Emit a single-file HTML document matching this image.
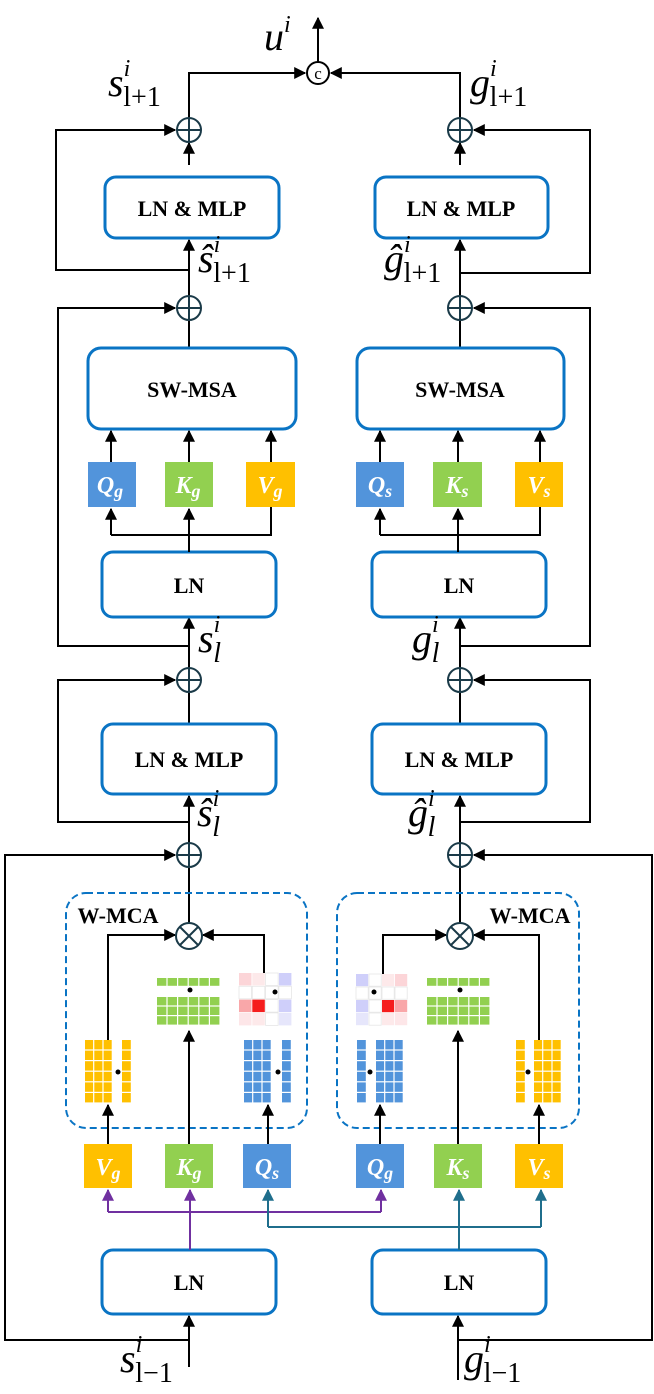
<!DOCTYPE html>
<html><head><meta charset="utf-8"><style>
html,body{margin:0;padding:0;background:#fff}
svg{display:block}
.b{fill:#fff;stroke:#0a74c4;stroke-width:3}
.t{font-family:"Liberation Serif",serif;font-weight:bold;font-size:22px;text-anchor:middle}
.l{fill:none;stroke:#000;stroke-width:2}
.m{font-family:"Liberation Serif",serif;font-style:italic;fill:#000}
.q{font-family:"Liberation Serif",serif;font-style:italic;font-weight:bold;fill:#fff;text-anchor:middle}
</style></head><body>
<svg id="s" width="654" height="1394" viewBox="0 0 654 1394" xmlns="http://www.w3.org/2000/svg">
<defs>
<marker id="a" viewBox="0 0 10 10" refX="9" refY="5" markerWidth="6" markerHeight="6" orient="auto"><path d="M0,0L10,5L0,10z" fill="#000"/></marker>
<marker id="ap" viewBox="0 0 10 10" refX="9" refY="5" markerWidth="6" markerHeight="6" orient="auto"><path d="M0,0L10,5L0,10z" fill="#7030a0"/></marker>
<marker id="at" viewBox="0 0 10 10" refX="9" refY="5" markerWidth="6" markerHeight="6" orient="auto"><path d="M0,0L10,5L0,10z" fill="#1f6e8c"/></marker>
</defs>

<path class="l" d="M318,62V18" marker-end="url(#a)"/>
<circle cx="318" cy="73" r="11" fill="#fff" stroke="#000" stroke-width="2"/>
<text x="318" y="79" font-family="Liberation Serif,serif" font-size="17" text-anchor="middle">c</text>
<path class="l" d="M189,118V73H305" marker-end="url(#a)"/>
<path class="l" d="M460,118V73H331" marker-end="url(#a)"/>

<path class="l" d="M189,165V143" marker-end="url(#a)"/>
<path class="l" d="M460,165V143" marker-end="url(#a)"/>
<path class="l" d="M189,296V240" marker-end="url(#a)"/>
<path class="l" d="M460,296V240" marker-end="url(#a)"/>
<path class="l" d="M189,348V321"/>
<path class="l" d="M460,348V321"/>
<path class="l" d="M189,668V618" marker-end="url(#a)"/>
<path class="l" d="M460,668V618" marker-end="url(#a)"/>
<path class="l" d="M189,724V693"/>
<path class="l" d="M460,724V693"/>
<path class="l" d="M189,843V796" marker-end="url(#a)"/>
<path class="l" d="M460,843V796" marker-end="url(#a)"/>
<path class="l" d="M189,924V868"/>
<path class="l" d="M460,924V868"/>
<path class="l" d="M189,1367V1316" marker-end="url(#a)"/>
<path class="l" d="M458,1380V1316" marker-end="url(#a)"/>

<path class="l" d="M189,270H56V130H175" marker-end="url(#a)"/>
<path class="l" d="M460,273H590V130H474" marker-end="url(#a)"/>
<path class="l" d="M189,646H58V308H175" marker-end="url(#a)"/>
<path class="l" d="M460,646H590V308H474" marker-end="url(#a)"/>
<path class="l" d="M189,822H58V680H175" marker-end="url(#a)"/>
<path class="l" d="M460,822H590V680H474" marker-end="url(#a)"/>
<path class="l" d="M189,1340H5V855H175" marker-end="url(#a)"/>
<path class="l" d="M458,1340H652V855H474" marker-end="url(#a)"/>

<g fill="#fff" stroke="#1a3a48" stroke-width="2">
<circle cx="189" cy="130" r="12"/><path d="M177,130H201M189,118V142"/>
<circle cx="460" cy="130" r="12"/><path d="M448,130H472M460,118V142"/>
<circle cx="189" cy="308" r="12"/><path d="M177,308H201M189,296V320"/>
<circle cx="460" cy="308" r="12"/><path d="M448,308H472M460,296V320"/>
<circle cx="189" cy="680" r="12"/><path d="M177,680H201M189,668V692"/>
<circle cx="460" cy="680" r="12"/><path d="M448,680H472M460,668V692"/>
<circle cx="189" cy="855" r="12"/><path d="M177,855H201M189,843V867"/>
<circle cx="460" cy="855" r="12"/><path d="M448,855H472M460,843V867"/>
</g>

<rect class="b" x="105" y="177" width="174" height="61" rx="11"/><text class="t" x="192" y="216">LN &amp; MLP</text>
<rect class="b" x="375" y="177" width="173" height="61" rx="11"/><text class="t" x="461" y="216">LN &amp; MLP</text>
<rect class="b" x="88" y="348" width="208" height="81" rx="13"/><text class="t" x="192" y="397">SW-MSA</text>
<rect class="b" x="357" y="348" width="207" height="81" rx="13"/><text class="t" x="460" y="397">SW-MSA</text>
<rect class="b" x="102" y="552" width="174" height="65" rx="11"/><text class="t" x="189" y="593">LN</text>
<rect class="b" x="372" y="552" width="174" height="65" rx="11"/><text class="t" x="459" y="593">LN</text>
<rect class="b" x="102" y="724" width="174" height="70" rx="11"/><text class="t" x="189" y="767">LN &amp; MLP</text>
<rect class="b" x="372" y="724" width="174" height="70" rx="11"/><text class="t" x="459" y="767">LN &amp; MLP</text>
<rect class="b" x="102" y="1250" width="174" height="64" rx="11"/><text class="t" x="189" y="1290">LN</text>
<rect class="b" x="372" y="1250" width="174" height="64" rx="11"/><text class="t" x="459" y="1290">LN</text>

<path class="l" d="M111,535H271V507"/>
<path class="l" d="M111,535V509" marker-end="url(#a)"/>
<path class="l" d="M189,552V509" marker-end="url(#a)"/>
<path class="l" d="M380,535H540V507"/>
<path class="l" d="M380,535V509" marker-end="url(#a)"/>
<path class="l" d="M458,552V509" marker-end="url(#a)"/>
<path class="l" d="M111,462V431" marker-end="url(#a)"/>
<path class="l" d="M189,462V431" marker-end="url(#a)"/>
<path class="l" d="M271,462V431" marker-end="url(#a)"/>
<path class="l" d="M380,462V431" marker-end="url(#a)"/>
<path class="l" d="M458,462V431" marker-end="url(#a)"/>
<path class="l" d="M540,462V431" marker-end="url(#a)"/>
<rect x="88" y="462" width="48" height="45" fill="#5294db"/><text class="q" x="110" y="493" font-size="24">Q<tspan font-size="18" dy="4">g</tspan></text>
<rect x="165" y="462" width="48" height="45" fill="#92d050"/><text class="q" x="188" y="493" font-size="24">K<tspan font-size="18" dy="4">g</tspan></text>
<rect x="246" y="462" width="49" height="45" fill="#ffc000"/><text class="q" x="270" y="493" font-size="24">V<tspan font-size="18" dy="4">g</tspan></text>
<rect x="356" y="462" width="48" height="45" fill="#5294db"/><text class="q" x="380" y="493" font-size="24">Q<tspan font-size="18" dy="4">s</tspan></text>
<rect x="433" y="462" width="49" height="45" fill="#92d050"/><text class="q" x="457" y="493" font-size="24">K<tspan font-size="18" dy="4">s</tspan></text>
<rect x="515" y="462" width="48" height="45" fill="#ffc000"/><text class="q" x="539" y="493" font-size="24">V<tspan font-size="18" dy="4">s</tspan></text>

<rect x="66" y="893" width="241" height="235" rx="20" fill="none" stroke="#0a74c4" stroke-width="2" stroke-dasharray="7,4"/>
<rect x="337" y="893" width="242" height="235" rx="20" fill="none" stroke="#0a74c4" stroke-width="2" stroke-dasharray="7,4"/>
<text class="t" x="118" y="923">W-MCA</text>
<text class="t" x="530" y="923">W-MCA</text>
<g id="cells"></g>
<path class="l" d="M108,1040V935H175" marker-end="url(#a)"/>
<path class="l" d="M264,973V935H203" marker-end="url(#a)"/>
<path class="l" d="M383,974V935H446" marker-end="url(#a)"/>
<path class="l" d="M539,1040V935H474" marker-end="url(#a)"/>
<g fill="#fff" stroke="#1a3a48" stroke-width="2">
<circle cx="189" cy="936" r="13"/><path d="M180,927L198,945M198,927L180,945"/>
<circle cx="460" cy="936" r="13"/><path d="M451,927L469,945M469,927L451,945"/>
</g>
<path class="l" d="M108,1144V1105" marker-end="url(#a)"/>
<path class="l" d="M189,1144V1031" marker-end="url(#a)"/>
<path class="l" d="M268,1144V1105" marker-end="url(#a)"/>
<path class="l" d="M380,1144V1105" marker-end="url(#a)"/>
<path class="l" d="M458,1144V1031" marker-end="url(#a)"/>
<path class="l" d="M539,1144V1105" marker-end="url(#a)"/>

<rect x="84" y="1144" width="48" height="44" fill="#ffc000"/><text class="q" x="108" y="1175" font-size="24">V<tspan font-size="18" dy="4">g</tspan></text>
<rect x="165" y="1144" width="48" height="44" fill="#92d050"/><text class="q" x="189" y="1175" font-size="24">K<tspan font-size="18" dy="4">g</tspan></text>
<rect x="243" y="1144" width="48" height="44" fill="#5294db"/><text class="q" x="267" y="1175" font-size="24">Q<tspan font-size="18" dy="4">s</tspan></text>
<rect x="356" y="1144" width="48" height="44" fill="#5294db"/><text class="q" x="380" y="1175" font-size="24">Q<tspan font-size="18" dy="4">g</tspan></text>
<rect x="434" y="1144" width="48" height="44" fill="#92d050"/><text class="q" x="458" y="1175" font-size="24">K<tspan font-size="18" dy="4">s</tspan></text>
<rect x="515" y="1144" width="48" height="44" fill="#ffc000"/><text class="q" x="539" y="1175" font-size="24">V<tspan font-size="18" dy="4">s</tspan></text>

<g fill="none" stroke="#7030a0" stroke-width="2">
<path d="M190,1250V1190" marker-end="url(#ap)"/>
<path d="M108,1212V1190" marker-end="url(#ap)"/>
<path d="M381,1212V1190" marker-end="url(#ap)"/>
<path d="M108,1212H381"/>
</g>
<g fill="none" stroke="#1f6e8c" stroke-width="2">
<path d="M459,1250V1190" marker-end="url(#at)"/>
<path d="M268,1227V1190" marker-end="url(#at)"/>
<path d="M541,1227V1190" marker-end="url(#at)"/>
<path d="M268,1227H541"/>
</g>

<text class="m" x="264" y="50" font-size="40">u<tspan font-size="24" dy="-18">i</tspan></text>
<text class="m" x="108" y="96" font-size="40">s<tspan font-size="24" dy="-20">i</tspan><tspan font-size="28" font-style="normal" dx="-7" dy="30">l+1</tspan></text>
<text class="m" x="470" y="96" font-size="40">g<tspan font-size="24" dy="-20">i</tspan><tspan font-size="28" font-style="normal" dx="-7" dy="30">l+1</tspan></text>
<text class="m" x="198" y="272" font-size="40">ŝ<tspan font-size="24" dy="-20">i</tspan><tspan font-size="28" font-style="normal" dx="-7" dy="30">l+1</tspan></text>
<text class="m" x="384" y="272" font-size="40">ĝ<tspan font-size="24" dy="-20">i</tspan><tspan font-size="28" font-style="normal" dx="-7" dy="30">l+1</tspan></text>
<text class="m" x="198" y="652" font-size="40">s<tspan font-size="24" dy="-20">i</tspan><tspan font-size="28" dx="-7" dy="30">l</tspan></text>
<text class="m" x="412" y="652" font-size="40">g<tspan font-size="24" dy="-20">i</tspan><tspan font-size="28" dx="-7" dy="30">l</tspan></text>
<text class="m" x="197" y="826" font-size="40">ŝ<tspan font-size="24" dy="-20">i</tspan><tspan font-size="28" dx="-7" dy="30">l</tspan></text>
<text class="m" x="408" y="826" font-size="40">ĝ<tspan font-size="24" dy="-20">i</tspan><tspan font-size="28" dx="-7" dy="30">l</tspan></text>
<text class="m" x="120" y="1372" font-size="40">s<tspan font-size="24" dy="-20">i</tspan><tspan font-size="28" font-style="normal" dx="-7" dy="30">l−1</tspan></text>
<text class="m" x="464" y="1372" font-size="40">g<tspan font-size="24" dy="-20">i</tspan><tspan font-size="28" font-style="normal" dx="-7" dy="30">l−1</tspan></text>
</svg>
<script>
var g=document.getElementById('cells'),NS='http://www.w3.org/2000/svg';
function r(x,y,w,h,c){var e=document.createElementNS(NS,'rect');e.setAttribute('x',x);e.setAttribute('y',y);e.setAttribute('width',w);e.setAttribute('height',h);e.setAttribute('fill',c);if(c=='#fff'){e.setAttribute('stroke','#e6e6e6');e.setAttribute('stroke-width','0.8');}g.appendChild(e);}
function grid(x,y,cols,rows,cw,ch,c){for(var i=0;i<cols;i++)for(var j=0;j<rows;j++)r(x+i*cw,y+j*ch,cw-1.2,ch-1.2,c);}
function dot(x,y){var e=document.createElementNS(NS,'circle');e.setAttribute('cx',x);e.setAttribute('cy',y);e.setAttribute('r',2.5);g.appendChild(e);}
var Y='#ffc000',B='#5294db',G='#92d050';
grid(85,1040,3,6,9.3,10.6,Y);grid(122,1040,1,6,10,10.6,Y);dot(118,1072);
grid(244,1040,3,6,9.3,10.6,B);grid(282,1040,1,6,10,10.6,B);dot(278,1072);
grid(157,978,6,1,10.6,9,G);grid(157,997,6,3,10.6,9.6,G);dot(190,990);
grid(357,1040,1,6,10,10.6,B);grid(376,1040,3,6,9.3,10.6,B);dot(370,1072);
grid(516,1040,1,6,10,10.6,Y);grid(534,1040,3,6,9.3,10.6,Y);dot(528,1072);
grid(427,978,6,1,10.6,9,G);grid(427,997,6,3,10.6,9.6,G);dot(460,990);
var H=[['#fcd5d8','#fde9ea','#fff','#cfcffa'],['#fff','#fff','#fff','#fff'],['#f9a7a9','#f51d1d','#fff','#cfcffa'],['#fde6e8','#fde9ea','#fff','#e6e6fb']];
for(var j=0;j<4;j++)for(var i=0;i<4;i++){r(239+i*13.3,973+j*13.3,12.5,12.5,H[j][i]);r(356+i*13,974+j*13,12.2,12.2,H[j][3-i]);}
dot(275,992);dot(374,992);
</script>
</body></html>
